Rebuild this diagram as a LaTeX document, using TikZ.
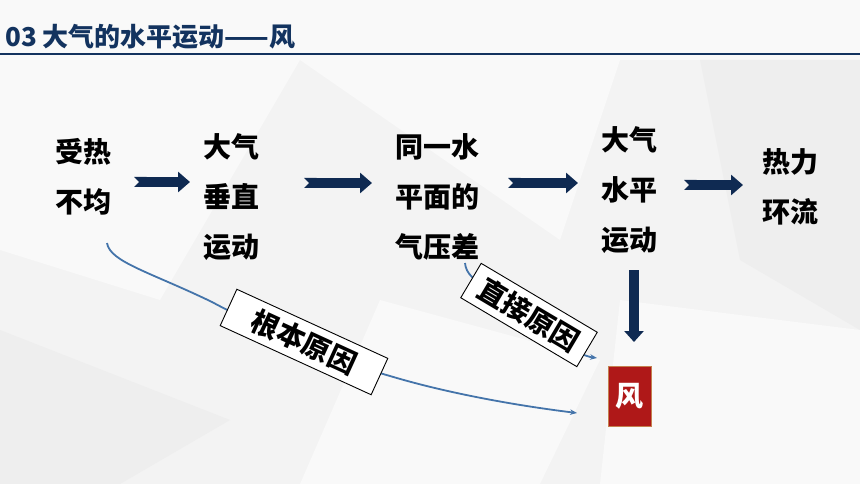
\documentclass[tikz,border=0pt]{standalone}
\usepackage{fontspec}
\newfontfamily\cjk{Noto Sans CJK SC}
\usetikzlibrary{arrows.meta,calc}
\definecolor{navy}{HTML}{0F2A52}
\definecolor{titleblue}{HTML}{13335F}
\definecolor{linkblue}{HTML}{4474AA}
\definecolor{windred}{HTML}{AF1818}
\definecolor{windedge}{HTML}{C4804E}
\definecolor{bg}{HTML}{F3F3F3}
\definecolor{bgl}{HTML}{F9F9F9}
\definecolor{bgd}{HTML}{EEEEEE}
\begin{document}
\begin{tikzpicture}[x=1pt,y=-1pt,
  flow/.style={font=\cjk\bfseries\fontsize{28}{50}\selectfont, align=center, inner sep=0pt, text=black},
  chev/.style={draw=navy, line width=10pt, {Triangle Cap[reversed]}-{Triangle[width=20pt,length=12pt]}},
  downarr/.style={draw=navy, line width=10pt, -{Triangle[width=19pt,length=11pt]}},
  link/.style={draw=linkblue, line width=1.8pt, -{Stealth[length=7pt,width=5.5pt]}},
  tag/.style={draw=black, line width=0.9pt, fill=white, font=\cjk\bfseries\fontsize{28}{30}\selectfont, minimum height=40pt, inner sep=0pt}
]
\useasboundingbox (0,0) rectangle (860,484);
% background
\fill[bg] (0,0) rectangle (860,484);
\fill[bgl] (0,0) -- (860,0) -- (860,60) -- (0,60) -- cycle;
\fill[bgl] (0,60) -- (300,60) -- (160,300) -- (0,250) -- cycle;
\fill[bgl] (300,60) -- (620,60) -- (560,240) -- cycle;
\fill[bgd] (700,60) -- (860,60) -- (860,330) -- (740,260) -- cycle;
\fill[bgl] (620,300) -- (860,330) -- (860,484) -- (600,484) -- cycle;
\fill[bgd] (0,330) -- (230,420) -- (120,484) -- (0,484) -- cycle;
\fill[bgl] (380,300) -- (600,360) -- (540,484) -- (300,484) -- cycle;
% title
\node[anchor=west, font=\cjk\bfseries\fontsize{26}{30}\selectfont, text=titleblue, inner sep=0pt] (title) at (5,37) {03 大气的水平运动——风};
\draw[titleblue, line width=1.6pt] (0,54) -- (860,54);
% flow text
\node[flow] (n1) at (83.5,177) {受热\\不均};
\node[flow] (n2) at (231.5,197) {大气\\垂直\\运动};
\node[flow] (n3) at (437.5,197) {同一水\\平面的\\气压差};
\node[flow] (n4) at (629.5,190) {大气\\水平\\运动};
\node[flow] (n5) at (790,187) {热力\\环流};
\node[draw=windedge, line width=0.8pt, fill=windred, minimum width=43pt, minimum height=60pt, inner sep=0pt, text=white, font=\cjk\bfseries\fontsize{28}{30}\selectfont] (wind) at (629.5,396) {风};
% chevron arrows
\coordinate (a1s) at (134,182); \coordinate (a1e) at (190,182);
\coordinate (a2s) at (304,183); \coordinate (a2e) at (372,183);
\coordinate (a3s) at (508,183); \coordinate (a3e) at (578,183);
\coordinate (a4s) at (684,185); \coordinate (a4e) at (743,185);
\coordinate (ds) at (634,270); \coordinate (de) at (634,342);
\draw[chev] (a1s) -- (a1e);
\draw[chev] (a2s) -- (a2e);
\draw[chev] (a3s) -- (a3e);
\draw[chev] (a4s) -- (a4e);
\draw[downarr] (ds) -- (de);
% cause links
\coordinate (c1s) at (107,243);
\coordinate (c1e) at (577,413);
\coordinate (c2s) at (465,263);
\coordinate (c2e) at (597,358);
\draw[link] (c1s) .. controls (110,262) and (150,272) .. (212,302)
  .. controls (260,328) and (340,362) .. (390,376)
  .. controls (450,394) and (520,406) .. (c1e);
\draw[link] (c2s) .. controls (466,274) and (474,280) .. (490,290)
  -- (575,350) .. controls (584,356) and (590,357) .. (c2e);
\node[tag, rotate=-24.6, minimum width=166pt] (t1) at (304,342) {根本原因};
\node[tag, rotate=-30.7, minimum width=135pt] (t2) at (529,315) {直接原因};
\end{tikzpicture}
\end{document}
